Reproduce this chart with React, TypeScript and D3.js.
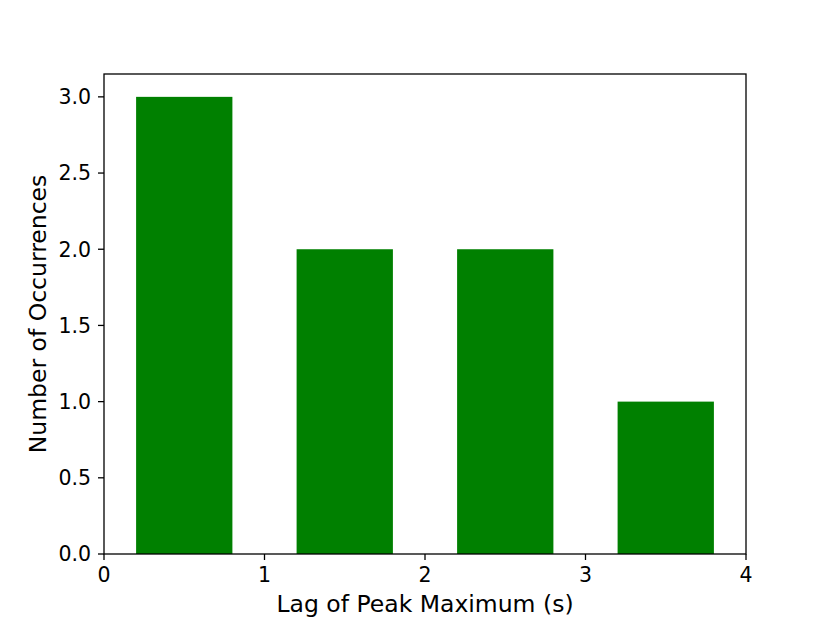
import * as d3 from 'd3';

const lags = [0.5, 1.5, 2.5, 3.5];
const counts = [3, 2, 2, 1];
const xTicks = [0, 1, 2, 3, 4];
const yTicks = [0, 0.5, 1, 1.5, 2, 2.5, 3];

const width = 830;
const height = 623;
const margin = { left: 104, right: 84, top: 74, bottom: 69 };
const font = 'DejaVu Sans, sans-serif';

const App = () => {
  const x = d3.scaleLinear().domain([0, 4]).range([margin.left, width - margin.right]);
  const y = d3.scaleLinear().domain([0, 3.15]).range([height - margin.bottom, margin.top]);
  const barW = x(0.6) - x(0);

  return (
    <svg width={width} height={height} style={{ display: 'block', position: 'absolute', left: 0, top: 0 }}>
      <rect width={width} height={height} fill="white" />
      {lags.map((d, i) => (
        <rect key={i} x={x(d) - barW / 2} y={y(counts[i])} width={barW} height={y(0) - y(counts[i])} fill="#008000" />
      ))}
      <rect
        x={x(0)}
        y={y(3.15)}
        width={x(4) - x(0)}
        height={y(0) - y(3.15)}
        fill="none"
        stroke="black"
        strokeWidth={1.3}
      />
      {xTicks.map(t => (
        <g key={t} transform={`translate(${x(t)},${y(0)})`}>
          <line y2={6} stroke="black" strokeWidth={1.3} />
          <text y={28} textAnchor="middle" fontFamily={font} fontSize={20.5}>{t}</text>
        </g>
      ))}
      {yTicks.map(t => (
        <g key={t} transform={`translate(${x(0)},${y(t)})`}>
          <line x2={-6} stroke="black" strokeWidth={1.3} />
          <text x={-13} dy="0.36em" textAnchor="end" fontFamily={font} fontSize={20.5}>{t.toFixed(1)}</text>
        </g>
      ))}
      <text x={(x(0) + x(4)) / 2} y={612} textAnchor="middle" fontFamily={font} fontSize={23.5}>
        Lag of Peak Maximum (s)
      </text>
      <text
        transform={`translate(46,${(y(0) + y(3.15)) / 2}) rotate(-90)`}
        textAnchor="middle"
        fontFamily={font}
        fontSize={23.5}
      >
        Number of Occurrences
      </text>
    </svg>
  );
};

export default App;
